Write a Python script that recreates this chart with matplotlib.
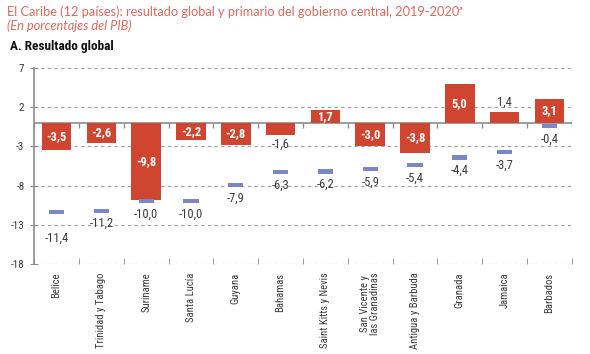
import matplotlib.pyplot as plt
import numpy as np
from matplotlib import font_manager

# Fonts: try a narrow family first, fall back to Liberation / DejaVu
names = {f.name for f in font_manager.fontManager.ttflist}
narrow = "Liberation Sans"
for cand in ["Roboto Condensed", "Liberation Sans Narrow", "Open Sans Condensed"]:
    if cand in names:
        narrow = cand
        break
plt.rcParams["font.family"] = [narrow, "DejaVu Sans"]

countries = [
    "Belice", "Trinidad y Tabago", "Suriname", "Santa Lucía", "Guyana",
    "Bahamas", "Saint Kitts y Nevis", "San Vicente y\nlas Granadinas",
    "Antigua y Barbuda", "Granada", "Jamaica", "Barbados",
]
res_2019 = [-3.5, -2.6, -9.8, -2.2, -2.8, -1.6, 1.7, -3.0, -3.8, 5.0, 1.4, 3.1]
res_2020 = [-11.4, -11.2, -10.0, -10.0, -7.9, -6.3, -6.2, -5.9, -5.4, -4.4, -3.7, -0.4]
yticks = [7, 2, -3, -8, -13, -18]

RED = "#D0452F"
BLUE = "#7B86C9"
GREY = "#8C8C8C"
TXT = "#3A3A3A"
TITLE = "#E0685C"

narrow_font = narrow != "Liberation Sans"
lab_fs = 7.7 if narrow_font else 7.0
val_fs = 9 if narrow_font else 8.2

fig = plt.figure(figsize=(5.9, 3.54), dpi=100)
ax = fig.add_axes([0.058, 0.254, 0.911, 0.554])

x = np.arange(len(countries))

ax.bar(x, res_2019, width=0.66, color=RED, zorder=3)
ax.bar(x, 0.55, bottom=np.array(res_2020) - 0.275, width=0.34, color=BLUE, zorder=3)

# labels on bars
for xi, v in zip(x, res_2019):
    s = f"{v:.1f}".replace(".", ",")
    if abs(v) >= 1.65:
        ax.text(xi, v / 2, s, ha="center", va="center", color="white",
                fontsize=val_fs, fontweight="bold", zorder=4)
    else:
        ax.annotate(s, (xi, v), xytext=(0, 2 if v > 0 else -2),
                    textcoords="offset points", ha="center",
                    va="bottom" if v > 0 else "top", color=TXT, fontsize=val_fs)

for xi, v in zip(x, res_2020):
    s = f"{v:.1f}".replace(".", ",")
    off = -12 if xi == 0 else -3
    ax.annotate(s, (xi, v - 0.3), xytext=(0, off), textcoords="offset points",
                ha="center", va="top", color=TXT, fontsize=val_fs)

ax.set_xlim(-0.5, len(countries) - 0.5)
ax.set_ylim(-18, 7)
ax.set_yticks(yticks)
ax.set_yticklabels([str(t) for t in yticks], color=TXT, fontsize=8)
ax.grid(axis="y", linestyle=(0, (3, 3)), color="#A0A0A0", linewidth=0.8, zorder=0)
ax.grid(axis="x", visible=False)

ax.set_xticks(x)
ax.set_xticklabels(countries, rotation=90, ha="center", va="top",
                   fontsize=lab_fs, color=TXT, linespacing=0.95)
ax.tick_params(axis="x", length=0, pad=6)
ax.set_xticks(np.arange(len(countries) + 1) - 0.5, minor=True)
ax.tick_params(axis="x", which="minor", direction="in", length=4, color=GREY)
ax.tick_params(axis="y", direction="inout", length=6, color=GREY, pad=4)

for side in ["top", "right", "bottom"]:
    ax.spines[side].set_visible(False)
ax.spines["left"].set_color(GREY)
ax.spines["left"].set_linewidth(1.2)

# zero line with small ticks at category boundaries
ax.axhline(0, color=GREY, linewidth=1.2, zorder=2)
ax.vlines(np.arange(len(countries) + 1) - 0.5, -0.7, 0, color=GREY, linewidth=1, zorder=2)

fig.text(0.012, 0.968, "El Caribe (12 países): resultado global y primario del gobierno central, 2019-2020ᵃ",
         color=TITLE, fontsize=9.2, family=["Lato", "DejaVu Sans"], va="center")
fig.text(0.012, 0.927, "(En porcentajes del PIB)", color=TITLE, fontsize=9.2,
         style="italic", family=["Lato", "DejaVu Sans"], va="center")
fig.text(0.017, 0.868, "A. Resultado global", color="#111111", fontsize=8.5 if not narrow_font else 9.5,
         fontweight="bold", va="center")

fig.savefig("out.png", dpi=100)
